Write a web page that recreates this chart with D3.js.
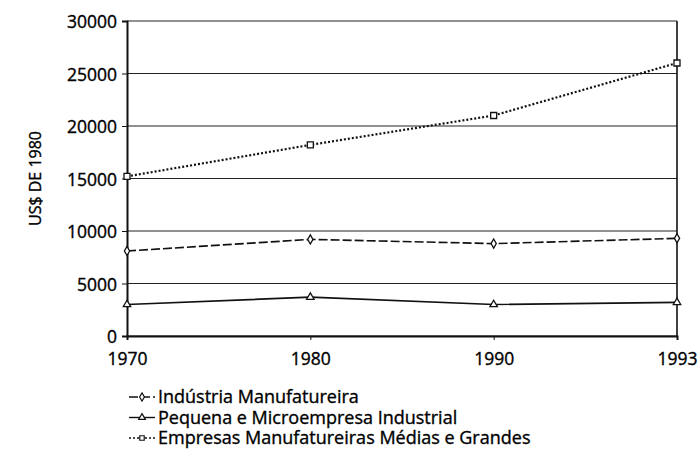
<!DOCTYPE html>
<html>
<head>
<meta charset="utf-8">
<style>
  body { margin: 0; background: #fff; }
  text { font-family: "Open Sans", "Noto Sans", sans-serif; fill: #000; stroke: #000; stroke-width: 0.35px; }
</style>
</head>
<body>
<svg width="700" height="456" id="chart"></svg>
<script src="https://cdn.jsdelivr.net/npm/d3@7/dist/d3.min.js"></script>
<script>
// data
var years = ["1970", "1980", "1990", "1993"];
var industria = [8100, 9200, 8800, 9300];
var pequena = [3000, 3700, 3000, 3200];
var medias = [15200, 18200, 21000, 26000];
var yTicks = [0, 5000, 10000, 15000, 20000, 25000, 30000];
var seriesNames = [
  "Indústria Manufatureira",
  "Pequena e Microempresa Industrial",
  "Empresas Manufatureiras Médias e Grandes"
];

var series = [
  { name: seriesNames[0], values: industria, dash: "9,3", symbol: d3.symbolDiamond },
  { name: seriesNames[1], values: pequena, dash: null, symbol: d3.symbolTriangle },
  { name: seriesNames[2], values: medias, dash: "2,2", symbol: d3.symbolSquare }
];

var svg = d3.select("#chart");
var plotLeft = 127, plotRight = 677, plotTop = 21, plotBottom = 336;

var x = d3.scalePoint().domain(years).range([plotLeft, plotRight]);
var y = d3.scaleLinear().domain([0, 30000]).range([plotBottom, plotTop]);

// gridlines
svg.append("g")
  .selectAll("line")
  .data(yTicks)
  .enter().append("line")
  .attr("x1", plotLeft).attr("x2", plotRight)
  .attr("y1", function(d) { return y(d); })
  .attr("y2", function(d) { return y(d); })
  .attr("stroke", "#222")
  .attr("stroke-width", 1.2);

// right border
svg.append("line")
  .attr("x1", plotRight).attr("x2", plotRight)
  .attr("y1", plotTop).attr("y2", plotBottom)
  .attr("stroke", "#111").attr("stroke-width", 1.6);

// y axis
var yAxis = svg.append("g")
  .attr("transform", "translate(" + plotLeft + ",0)")
  .call(d3.axisLeft(y).tickValues(yTicks).tickSize(5).tickPadding(5).tickFormat(d3.format("d")));
yAxis.select(".domain").attr("stroke", "#111").attr("stroke-width", 2);
yAxis.selectAll(".tick line").attr("stroke", "#111");
yAxis.selectAll("text").style("font-size", "17.5px").attr("dy", "0.38em");

// x axis
var xAxis = svg.append("g")
  .attr("transform", "translate(0," + plotBottom + ")")
  .call(d3.axisBottom(x).tickSize(4).tickPadding(13));
xAxis.select(".domain").attr("stroke", "#111").attr("stroke-width", 2);
xAxis.selectAll(".tick line").attr("stroke", "#111");
xAxis.selectAll("text").style("font-size", "17.5px");

// y label
svg.append("text")
  .attr("transform", "translate(41," + ((plotTop + plotBottom) / 2) + ") rotate(-90)")
  .attr("text-anchor", "middle")
  .style("font-size", "16px")
  .text("US$ DE 1980");

var line = d3.line()
  .x(function(d, i) { return x(years[i]); })
  .y(function(d) { return y(d); });

series.forEach(function(s) {
  svg.append("path")
    .datum(s.values)
    .attr("d", line)
    .attr("fill", "none")
    .attr("stroke", "#111")
    .attr("stroke-width", s.dash === "2,2" ? 2.2 : 1.6)
    .attr("stroke-dasharray", s.dash);

  svg.append("g")
    .selectAll("path")
    .data(s.values)
    .enter().append("path")
    .attr("d", d3.symbol().type(s.symbol).size(s.symbol === d3.symbolSquare ? 36 : 24))
    .attr("transform", function(d, i) { return "translate(" + x(years[i]) + "," + y(d) + ")"; })
    .attr("fill", "#fff")
    .attr("stroke", "#111")
    .attr("stroke-width", 1.3);
});

// legend
var legend = svg.append("g");
series.forEach(function(s, i) {
  var ly = 397 + i * 20.5;
  legend.append("line")
    .attr("x1", 129).attr("x2", 155)
    .attr("y1", ly).attr("y2", ly)
    .attr("stroke", "#111")
    .attr("stroke-width", 1.4)
    .attr("stroke-dasharray", s.dash);
  legend.append("path")
    .attr("d", d3.symbol().type(s.symbol).size(20))
    .attr("transform", "translate(142," + ly + ")")
    .attr("fill", "#fff")
    .attr("stroke", "#111")
    .attr("stroke-width", 1.2);
  legend.append("text")
    .attr("x", 158)
    .attr("y", ly + 6)
    .style("font-size", "18px")
    .text(s.name);
});
</script>
</body>
</html>
